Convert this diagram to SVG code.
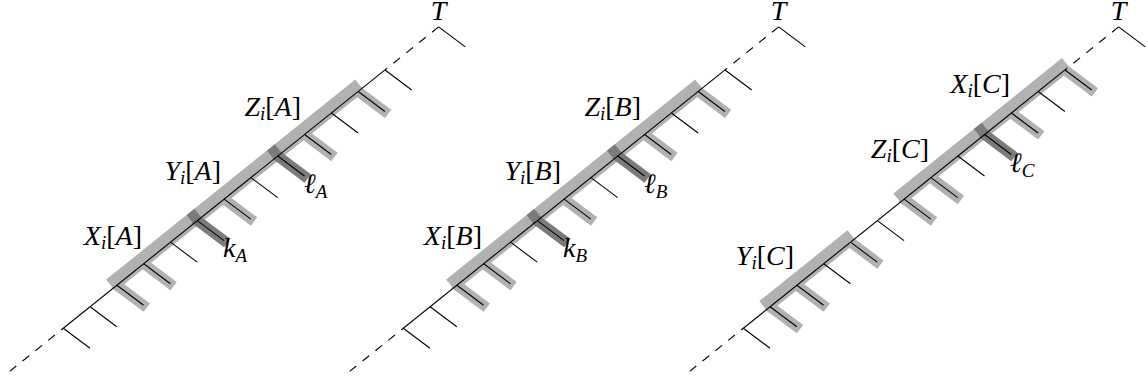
<svg xmlns="http://www.w3.org/2000/svg" xmlns:xlink="http://www.w3.org/1999/xlink" width="1148" height="383" viewBox="0 0 1148 383">
<style>
.ln{fill:none;stroke:#000;stroke-width:1.1}
.dash{fill:none;stroke:#000;stroke-width:1.1;stroke-dasharray:8.5 8}
.sh{fill:none;stroke:#000}
</style>
<defs>
<g id="comb">
<path class="dash" d="M-53.62 43.06L0 0M375.34 -301.42L321.72 -258.36"/>
<path class="ln" d="M0 0L321.72 -258.36"/>
<path class="ln" d="M0 0l26.7 20M26.81 -21.53l26.7 20M53.62 -43.06l26.7 20M80.43 -64.59l26.7 20M107.24 -86.12l26.7 20M134.05 -107.65l26.7 20M160.86 -129.18l26.7 20M187.67 -150.71l26.7 20M214.48 -172.24l26.7 20M241.29 -193.77l26.7 20M268.1 -215.3l26.7 20M294.91 -236.83l26.7 20M321.72 -258.36l26.7 20M375.34 -301.42l26.7 20"/>
</g>
<g id="band">
<path class="sh" stroke-width="15" d="M-6.1 0.2L82.1 -70.6"/>
<path class="sh" stroke-width="10.5" d="M-2.4 -1.8L29.9 22.4M24.41 -23.33L56.71 0.87M78.03 -66.39L110.33 -42.19"/>
</g>
</defs>

<g id="panel-a" transform="translate(63.3 328.3)">
<use xlink:href="#band" href="#band" transform="translate(53.62 -43.06)" opacity="0.3"/>
<use xlink:href="#band" href="#band" transform="translate(134.05 -107.65)" opacity="0.3"/>
<use xlink:href="#band" href="#band" transform="translate(214.48 -172.24)" opacity="0.3"/>
<use xlink:href="#comb" href="#comb"/>
</g>
<g id="panel-b" transform="translate(403.3 328.3)">
<use xlink:href="#band" href="#band" transform="translate(53.62 -43.06)" opacity="0.3"/>
<use xlink:href="#band" href="#band" transform="translate(134.05 -107.65)" opacity="0.3"/>
<use xlink:href="#band" href="#band" transform="translate(214.48 -172.24)" opacity="0.3"/>
<use xlink:href="#comb" href="#comb"/>
</g>
<g id="panel-c" transform="translate(743.3 328.3)">
<use xlink:href="#band" href="#band" transform="translate(26.81 -21.53)" opacity="0.3"/>
<use xlink:href="#band" href="#band" transform="translate(160.86 -129.18)" opacity="0.3"/>
<use xlink:href="#band" href="#band" transform="translate(241.29 -193.77)" opacity="0.3"/>
<use xlink:href="#comb" href="#comb"/>
</g>

<g id="labels-a" font-family="Liberation Serif, DejaVu Serif, serif" font-size="28" fill="#000">
<text x="438.6" y="20" text-anchor="middle" font-style="italic">T</text>
<text x="142" y="245" text-anchor="end"><tspan font-style="italic">X</tspan><tspan font-style="italic" font-size="19" dy="4">i</tspan><tspan dy="-4">[</tspan><tspan font-style="italic">A</tspan>]</text>
<text x="221" y="180" text-anchor="end"><tspan font-style="italic">Y</tspan><tspan font-style="italic" font-size="19" dy="4">i</tspan><tspan dy="-4">[</tspan><tspan font-style="italic">A</tspan>]</text>
<text x="301" y="116" text-anchor="end"><tspan font-style="italic">Z</tspan><tspan font-style="italic" font-size="19" dy="4">i</tspan><tspan dy="-4">[</tspan><tspan font-style="italic">A</tspan>]</text>
<text x="223" y="257"><tspan font-style="italic">k</tspan><tspan font-style="italic" font-size="19" dy="5">A</tspan></text>
<text x="304" y="193"><tspan font-style="italic">ℓ</tspan><tspan font-style="italic" font-size="19" dy="5">A</tspan></text>
</g>
<g id="labels-b" font-family="Liberation Serif, DejaVu Serif, serif" font-size="28" fill="#000">
<text x="778.6" y="20" text-anchor="middle" font-style="italic">T</text>
<text x="482" y="245" text-anchor="end"><tspan font-style="italic">X</tspan><tspan font-style="italic" font-size="19" dy="4">i</tspan><tspan dy="-4">[</tspan><tspan font-style="italic">B</tspan>]</text>
<text x="561" y="180" text-anchor="end"><tspan font-style="italic">Y</tspan><tspan font-style="italic" font-size="19" dy="4">i</tspan><tspan dy="-4">[</tspan><tspan font-style="italic">B</tspan>]</text>
<text x="641" y="116" text-anchor="end"><tspan font-style="italic">Z</tspan><tspan font-style="italic" font-size="19" dy="4">i</tspan><tspan dy="-4">[</tspan><tspan font-style="italic">B</tspan>]</text>
<text x="563" y="257"><tspan font-style="italic">k</tspan><tspan font-style="italic" font-size="19" dy="5">B</tspan></text>
<text x="644" y="193"><tspan font-style="italic">ℓ</tspan><tspan font-style="italic" font-size="19" dy="5">B</tspan></text>
</g>
<g id="labels-c" font-family="Liberation Serif, DejaVu Serif, serif" font-size="28" fill="#000">
<text x="1118.6" y="20" text-anchor="middle" font-style="italic">T</text>
<text x="1010" y="93" text-anchor="end"><tspan font-style="italic">X</tspan><tspan font-style="italic" font-size="19" dy="4">i</tspan><tspan dy="-4">[</tspan><tspan font-style="italic">C</tspan>]</text>
<text x="794" y="265" text-anchor="end"><tspan font-style="italic">Y</tspan><tspan font-style="italic" font-size="19" dy="4">i</tspan><tspan dy="-4">[</tspan><tspan font-style="italic">C</tspan>]</text>
<text x="929" y="158" text-anchor="end"><tspan font-style="italic">Z</tspan><tspan font-style="italic" font-size="19" dy="4">i</tspan><tspan dy="-4">[</tspan><tspan font-style="italic">C</tspan>]</text>
<text x="1010" y="172"><tspan font-style="italic">ℓ</tspan><tspan font-style="italic" font-size="19" dy="5">C</tspan></text>
</g>
</svg>
